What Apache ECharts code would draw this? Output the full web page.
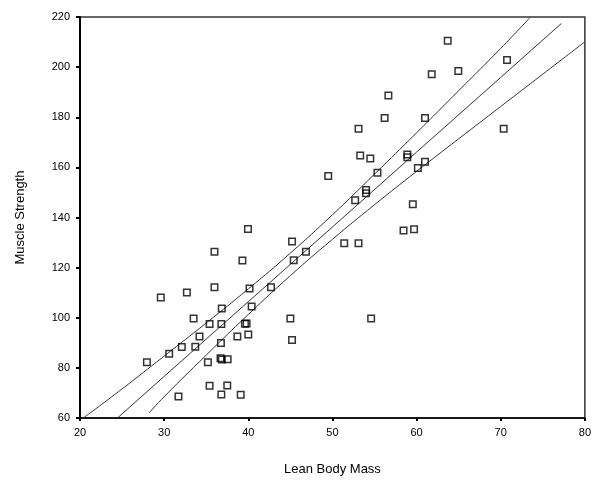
<!DOCTYPE html>
<html>
<head>
<meta charset="utf-8">
<script src="https://cdn.jsdelivr.net/npm/echarts@6/dist/echarts.min.js"></script>
<style>html,body{margin:0;padding:0;background:#fff;}#c{width:594px;height:486px;}</style>
</head>
<body>
<div id="c"></div>
<script>
// Scatter data: [Lean Body Mass, Muscle Strength]
const points = [
  [63.7,210.5],[70.75,202.8],[61.8,197.2],[64.96,198.5],[56.65,188.7],[56.2,179.7],[61.0,179.7],
  [53.1,175.4],[70.35,175.4],[53.3,164.7],[54.5,163.5],[58.9,165.1],[58.9,164.0],[49.5,156.6],
  [55.35,157.9],[54.0,151.0],[54.0,149.7],[52.7,146.9],[60.15,159.8],[61.0,162.2],[59.55,145.3],
  [58.45,134.8],[59.7,135.3],[45.2,130.4],[51.4,129.7],[53.1,129.7],[45.4,122.9],[46.85,126.3],
  [42.7,112.2],[45.0,99.7],[54.6,99.7],[45.2,91.1],[39.96,135.4],[35.98,126.3],[39.3,122.8],
  [35.98,112.2],[40.15,111.7],[36.85,103.7],[40.4,104.5],[29.6,108.1],[32.7,110.1],[33.5,99.7],
  [35.4,97.5],[36.8,97.5],[39.6,97.6],[39.8,97.7],[34.2,92.5],[38.7,92.5],[40.0,93.3],
  [32.1,88.3],[33.7,88.4],[36.75,89.9],[30.6,85.6],[27.95,82.2],[35.2,82.2],[36.7,83.8],
  [36.85,83.3],[37.55,83.4],[31.7,68.6],[35.4,72.9],[37.5,73.0],[36.8,69.4],[39.1,69.3]
];
// Fit line and band
const fitLine = [[24.45,60],[30,76.6],[40,106.4],[50,136.2],[60,166.1],[70,195.9],[77.2,217.4]];
const upperBand = [[20.4,60],[25,71.6],[30,84.7],[35,97.9],[40,111.5],[45,125.8],[50,141.1],
  [55,157.3],[60,173.8],[65,190.6],[70,207.5],[73.4,219.5]];
const lowerBand = [[28.2,62],[30,68.5],[35,85.1],[40,101.3],[45,116.8],[50,131.3],[55,145.1],
  [60,158.4],[65,171.4],[70,184.3],[75,197.2],[80,210.1]];
const xTicks = {min:20, max:80, interval:10};
const yTicks = {min:60, max:220, interval:20};

const chart = echarts.init(document.getElementById('c'));
const lineStyle = {color:'#333', width:1};
const font = 'Liberation Sans, Arial, sans-serif';
chart.setOption({
  animation:false,
  grid:{left:80, right:6, top:17, bottom:68, show:true, borderColor:'#333', borderWidth:1.5, backgroundColor:'#fff'},
  xAxis:{
    type:'value', min:xTicks.min, max:xTicks.max, interval:xTicks.interval,
    name:'Lean Body Mass', nameLocation:'middle', nameGap:45,
    nameTextStyle:{fontFamily:font, fontSize:13, color:'#000'},
    axisLine:{show:true, lineStyle:{color:'#000', width:1.5}},
    axisTick:{show:true, inside:false, length:3, lineStyle:{color:'#000', width:2}},
    axisLabel:{fontFamily:font, fontSize:11, color:'#000', margin:9},
    splitLine:{show:false}
  },
  yAxis:{
    type:'value', min:yTicks.min, max:yTicks.max, interval:yTicks.interval,
    name:'Muscle Strength', nameLocation:'middle', nameGap:53,
    nameTextStyle:{fontFamily:font, fontSize:13, color:'#000'},
    axisLine:{show:true, lineStyle:{color:'#000', width:2}},
    axisTick:{show:true, inside:false, length:4, lineStyle:{color:'#000', width:2}},
    axisLabel:{fontFamily:font, fontSize:11, color:'#000', margin:10},
    splitLine:{show:false}
  },
  series:[
    {type:'line', data:upperBand, smooth:true, symbol:'none', lineStyle:lineStyle, z:2},
    {type:'line', data:fitLine, symbol:'none', lineStyle:lineStyle, z:2},
    {type:'line', data:lowerBand, smooth:true, symbol:'none', lineStyle:lineStyle, z:2},
    {type:'scatter', data:points, symbol:'rect', symbolSize:6.5,
     itemStyle:{color:'rgba(255,255,255,0)', borderColor:'#000', borderWidth:1.5}, z:3}
  ]
});
</script>
</body>
</html>
